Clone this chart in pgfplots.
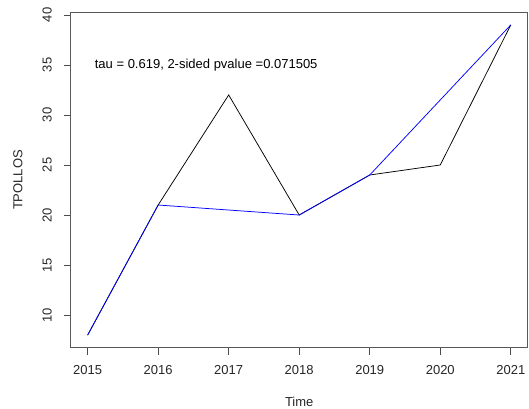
\documentclass[border=0pt]{standalone}
\usepackage{fontspec}
\setmainfont{Liberation Sans}
\usepackage{pgfplots}
\pgfplotsset{compat=1.18}
\begin{document}
\fontsize{13pt}{15pt}\selectfont
\begin{tikzpicture}[x=1pt,y=1pt]
\path[use as bounding box] (0,0) rectangle (529,408);
\begin{axis}[
  at={(70.7pt,60.5pt)}, anchor=south west,
  scale only axis, width=457pt, height=335pt,
  xmin=2014.76, xmax=2021.24, ymin=6.76, ymax=40.24,
  xtick={2015,2016,2017,2018,2019,2020,2021},
  ytick={10,15,20,25,30,35,40},
  /pgf/number format/1000 sep={},
  /pgf/number format/assume math mode=true,
  tick align=outside, major tick length=7pt,
  tick style={black!70, line width=0.75pt},
  xtick pos=bottom, ytick pos=left,
  axis line style={black!65, line width=0.9pt},
  xticklabel style={font=\fontsize{13pt}{15pt}\selectfont, text=black!85, anchor=north, inner sep=0pt, yshift=-11pt},
  yticklabel style={font=\fontsize{13pt}{15pt}\selectfont, text=black!85, rotate=90, anchor=base, inner sep=0pt, yshift=12pt},
  xlabel={Time}, ylabel={TPOLLOS},
  xlabel style={font=\fontsize{13pt}{15pt}\selectfont, text=black!85, at={(axis description cs:0.5,0)}, anchor=center, yshift=-54pt},
  ylabel style={font=\fontsize{13pt}{15pt}\selectfont, text=black!85, at={(axis description cs:0,0.5)}, anchor=center, yshift=52.7pt},
  clip=true,
]
\addplot[black, line width=0.75pt] coordinates {(2015,8) (2016,21) (2017,32) (2018,20) (2019,24) (2020,25) (2021,39)};
\addplot[blue, line width=0.75pt] coordinates {(2015,8) (2016,21) (2017,20.5) (2018,20) (2019,24) (2020,31.5) (2021,39)};
\node[anchor=west, inner sep=0pt, font=\fontsize{13pt}{15pt}\selectfont] at (axis cs:2015.1,35) {tau = 0.619, 2-sided pvalue =0.071505};
\end{axis}
\end{tikzpicture}
\end{document}
